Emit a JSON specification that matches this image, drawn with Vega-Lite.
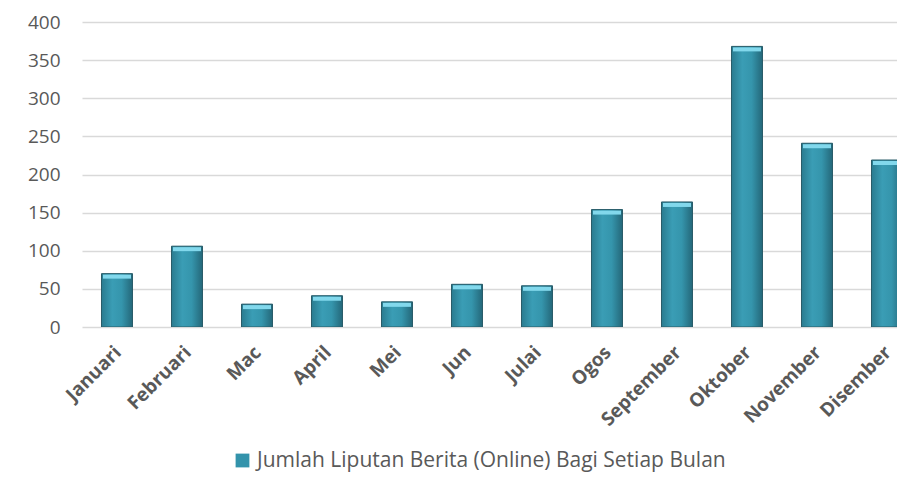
{
  "$schema": "https://vega.github.io/schema/vega-lite/v6.json",
  "width": 815,
  "height": 305,
  "autosize": {"type": "none"},
  "padding": {"left": 82, "top": 22, "right": 0, "bottom": 164},
  "background": "white",
  "config": {"view": {"stroke": null}, "font": "Open Sans"},
  "data": {
    "values": [
      {"bulan": "Januari", "jumlah": 70, "siri": "Jumlah Liputan Berita (Online) Bagi Setiap Bulan"},
      {"bulan": "Februari", "jumlah": 106, "siri": "Jumlah Liputan Berita (Online) Bagi Setiap Bulan"},
      {"bulan": "Mac", "jumlah": 30, "siri": "Jumlah Liputan Berita (Online) Bagi Setiap Bulan"},
      {"bulan": "April", "jumlah": 41, "siri": "Jumlah Liputan Berita (Online) Bagi Setiap Bulan"},
      {"bulan": "Mei", "jumlah": 33, "siri": "Jumlah Liputan Berita (Online) Bagi Setiap Bulan"},
      {"bulan": "Jun", "jumlah": 56, "siri": "Jumlah Liputan Berita (Online) Bagi Setiap Bulan"},
      {"bulan": "Julai", "jumlah": 54, "siri": "Jumlah Liputan Berita (Online) Bagi Setiap Bulan"},
      {"bulan": "Ogos", "jumlah": 154, "siri": "Jumlah Liputan Berita (Online) Bagi Setiap Bulan"},
      {"bulan": "September", "jumlah": 164, "siri": "Jumlah Liputan Berita (Online) Bagi Setiap Bulan"},
      {"bulan": "Oktober", "jumlah": 368, "siri": "Jumlah Liputan Berita (Online) Bagi Setiap Bulan"},
      {"bulan": "November", "jumlah": 241, "siri": "Jumlah Liputan Berita (Online) Bagi Setiap Bulan"},
      {"bulan": "Disember", "jumlah": 219, "siri": "Jumlah Liputan Berita (Online) Bagi Setiap Bulan"}
    ]
  },
  "encoding": {
    "x": {
      "field": "bulan", "type": "nominal", "sort": null,
      "scale": {"range": [0, 840], "paddingInner": 0.557, "paddingOuter": 0.2785},
      "axis": {
        "title": null, "labelAngle": -45, "labelAlign": "right", "labelBaseline": "middle",
        "labelFontSize": 19, "labelFontWeight": "bold", "labelColor": "#595959",
        "ticks": false, "domain": false, "labelPadding": 22, "labelOffset": 1, "grid": false
      }
    },
    "y": {
      "field": "jumlah", "type": "quantitative",
      "scale": {"domain": [0, 400], "nice": false},
      "axis": {
        "title": null, "values": [0, 50, 100, 150, 200, 250, 300, 350, 400],
        "labelFontSize": 19, "labelColor": "#595959", "ticks": false, "domain": false,
        "labelPadding": 22, "gridColor": "#d9d9d9", "gridWidth": 1.5
      }
    }
  },
  "layer": [
    {
      "mark": {"type": "bar", "clip": true},
      "encoding": {
        "color": {
          "field": "siri", "type": "nominal",
          "scale": {"range": ["#3393ab"]},
          "legend": {
            "title": null, "orient": "none", "legendX": 150, "legendY": 428,
            "symbolType": "square", "symbolSize": 190, "symbolStrokeWidth": 0,
            "labelFontSize": 21, "labelColor": "#595959", "labelOffset": 4, "labelLimit": 700
          }
        }
      }
    },
    {
      "mark": {
        "type": "bar", "clip": true, "stroke": "#2a5c69", "strokeWidth": 1,
        "fill": {
          "gradient": "linear", "x1": 0, "y1": 0, "x2": 1, "y2": 0,
          "stops": [
            {"offset": 0, "color": "#2a7b8f"},
            {"offset": 0.35, "color": "#3a9db5"},
            {"offset": 0.65, "color": "#3595ac"},
            {"offset": 1, "color": "#246779"}
          ]
        }
      }
    },
    {
      "mark": {"type": "tick", "clip": true, "color": "#82d8ec", "size": 28, "thickness": 4, "yOffset": 3, "opacity": 1}
    }
  ]
}
